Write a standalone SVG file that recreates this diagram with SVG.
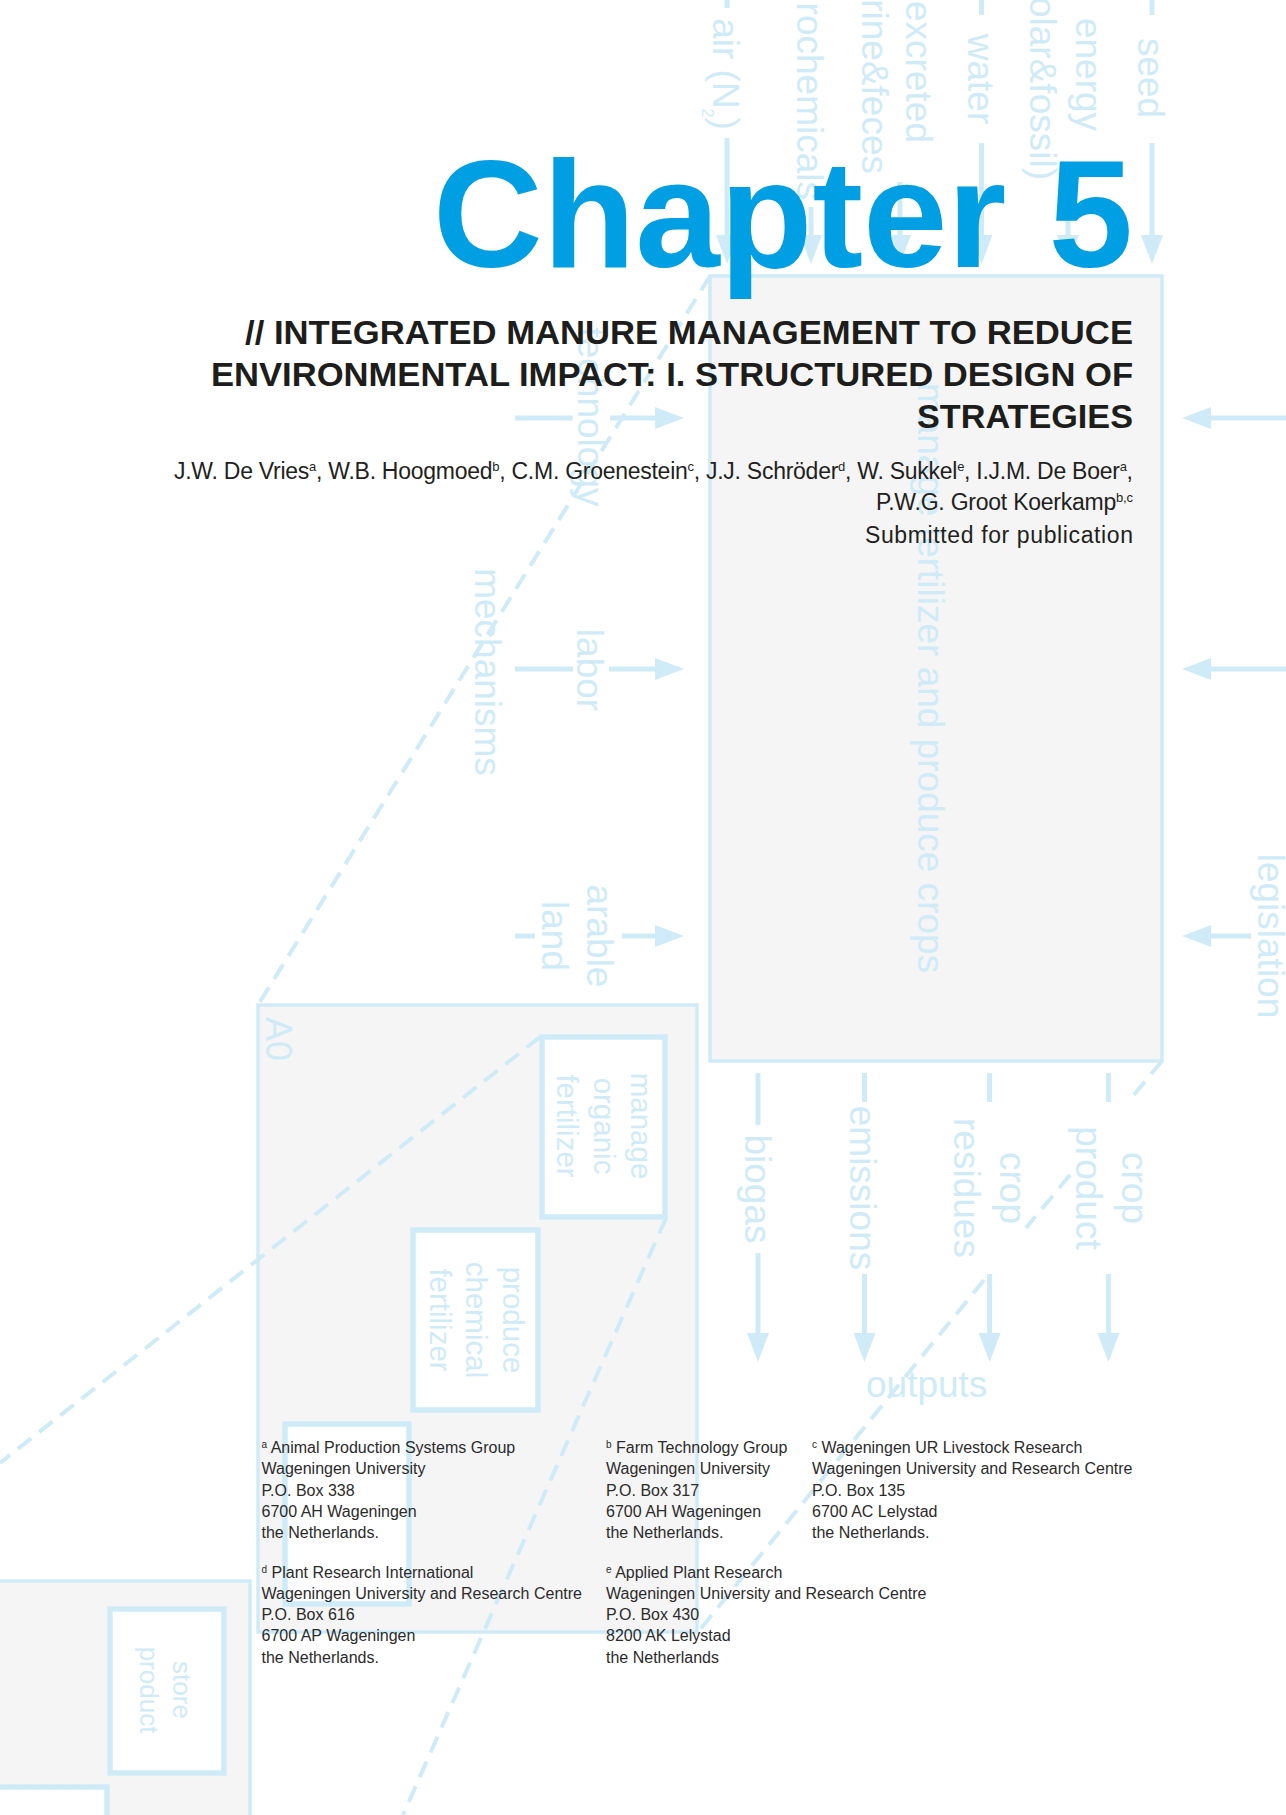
<svg xmlns="http://www.w3.org/2000/svg" width="1286" height="1815" viewBox="0 0 1286 1815">
<defs>
<style>
  .frame{fill:#f5f5f5;stroke:#cfebf8;stroke-width:3.5}
  .act{fill:#ffffff;stroke:#cfebf8;stroke-width:5.5}
  .flow{fill:none;stroke:#cfebf8;stroke-width:5}
  .zoomln{fill:none;stroke:#cfebf8;stroke-width:4;stroke-dasharray:17 10}
  .lbl{font-family:"Liberation Sans",Arial,sans-serif;font-size:37px;fill:#cfebf8}
  .lbl2{font-family:"Liberation Sans",Arial,sans-serif;font-size:29.5px;fill:#cfebf8}
  .lbl3{font-family:"Liberation Sans",Arial,sans-serif;font-size:26px;fill:#cfebf8}
  .mid{text-anchor:middle}
  .end{text-anchor:end}
  .chap{font-family:"Liberation Sans",Arial,sans-serif;font-weight:bold;font-size:152px;fill:#009fe3}
  .ttl{font-family:"Liberation Sans",Arial,sans-serif;font-weight:bold;font-size:33px;fill:#1d1d1b}
  .auth{font-family:"Liberation Sans",Arial,sans-serif;font-size:23px;fill:#231f20}
  .aff{font-family:"Liberation Sans",Arial,sans-serif;font-size:16px;fill:#2b2b2b}
  .sup{font-size:13px}
  .asup{font-size:10px}
</style>
<marker id="ah" markerUnits="userSpaceOnUse" markerWidth="29" markerHeight="22" refX="0" refY="11" orient="auto" viewBox="0 0 29 22">
  <path d="M0,0 L29,11 L0,22 z" fill="#cfebf8"/>
</marker>
</defs>

<rect width="1286" height="1815" fill="#ffffff"/>

<!-- level 2 frame (bottom-left) -->
<g id="frame-a2">
  <rect class="frame" x="-20" y="1581" width="270" height="300"/>
</g>
<g id="node-store-product">
  <rect class="act" x="110" y="1609" width="114" height="164"/>
  <text class="lbl3 mid" transform="translate(173,1690) rotate(90)">store</text>
  <text class="lbl3 mid" transform="translate(140,1690) rotate(90)">product</text>
</g>
<g id="node-a2-lower">
  <rect class="act" x="-20" y="1787" width="127" height="100"/>
</g>

<!-- A0 decomposition frame -->
<g id="frame-a0">
  <rect class="frame" x="258" y="1005" width="439" height="627"/>
  <text class="lbl" style="font-size:36px" transform="translate(266,1017) rotate(90)">A0</text>
</g>
<g id="node-manage-organic">
  <rect class="act" x="542" y="1037" width="123" height="180"/>
  <text class="lbl2 mid" transform="translate(631,1126) rotate(90)">manage</text>
  <text class="lbl2 mid" transform="translate(594,1126) rotate(90)">organic</text>
  <text class="lbl2 mid" transform="translate(557,1126) rotate(90)">fertilizer</text>
</g>
<g id="node-produce-chemical">
  <rect class="act" x="413" y="1230" width="125" height="180"/>
  <text class="lbl2 mid" transform="translate(503,1320) rotate(90)">produce</text>
  <text class="lbl2 mid" transform="translate(466,1320) rotate(90)">chemical</text>
  <text class="lbl2 mid" transform="translate(430,1320) rotate(90)">fertilizer</text>
</g>
<g id="node-a0-third">
  <rect class="act" x="285" y="1424" width="124" height="180"/>
</g>

<!-- context activity -->
<g id="node-a-0">
  <rect class="frame" x="710" y="276" width="452" height="785"/>
  <text class="lbl mid" transform="translate(918,678) rotate(90)">manage fertilizer and produce crops</text>
</g>

<!-- arrows -->
<g id="connectors">
  <!-- inputs -->
  <path class="flow" d="M727,0 V8"/>
  <path class="flow" d="M727,138 V235" marker-end="url(#ah)"/>
  <path class="flow" d="M811,207 V235" marker-end="url(#ah)"/>
  <path class="flow" d="M900,182 V235" marker-end="url(#ah)"/>
  <path class="flow" d="M981.5,0 V15"/>
  <path class="flow" d="M981.5,143 V235" marker-end="url(#ah)"/>
  <path class="flow" d="M1068,188 V235" marker-end="url(#ah)"/>
  <path class="flow" d="M1152,0 V15"/>
  <path class="flow" d="M1152,143 V235" marker-end="url(#ah)"/>
  <!-- mechanisms -->
  <path class="flow" d="M515,418 H572.7"/>
  <path class="flow" d="M610,418 H655" marker-end="url(#ah)"/>
  <path class="flow" d="M515,669 H573"/>
  <path class="flow" d="M609,669 H655" marker-end="url(#ah)"/>
  <path class="flow" d="M515,936 H535"/>
  <path class="flow" d="M622,936 H655" marker-end="url(#ah)"/>
  <!-- controls -->
  <path class="flow" d="M1290,418 H1211" marker-end="url(#ah)"/>
  <path class="flow" d="M1290,669 H1211" marker-end="url(#ah)"/>
  <path class="flow" d="M1251,936 H1211" marker-end="url(#ah)"/>
  <!-- outputs -->
  <path class="flow" d="M758,1073 V1125"/>
  <path class="flow" d="M758,1253 V1333" marker-end="url(#ah)"/>
  <path class="flow" d="M864.5,1073 V1102"/>
  <path class="flow" d="M864.5,1274 V1333" marker-end="url(#ah)"/>
  <path class="flow" d="M989.6,1073 V1102"/>
  <path class="flow" d="M989.6,1274 V1333" marker-end="url(#ah)"/>
  <path class="flow" d="M1108.4,1073 V1102"/>
  <path class="flow" d="M1108.4,1274 V1333" marker-end="url(#ah)"/>
  <!-- decomposition guides -->
  <path class="zoomln" d="M710,276 L258,1005"/>
  <path class="zoomln" d="M1162,1061 L1128,1102 M1070,1175 L1026,1228 M984,1280 L698,1632"/>
  <path class="zoomln" d="M540,1037 L0,1463"/>
  <path class="zoomln" d="M666,1218 L403,1815"/>
</g>

<!-- arrow labels -->
<g id="labels">
  <text class="lbl mid" transform="translate(713,74) rotate(90)">air (N<tspan style="font-size:16px" dy="11">2</tspan><tspan dy="-11">)</tspan></text>
  <text class="lbl end" transform="translate(797,200) rotate(90)">agrochemicals</text>
  <text class="lbl mid" transform="translate(906,72) rotate(90)">excreted</text>
  <text class="lbl end" transform="translate(862,174) rotate(90)">urine&amp;feces</text>
  <text class="lbl mid" transform="translate(968,79) rotate(90)">water</text>
  <text class="lbl mid" transform="translate(1076,74.5) rotate(90)">energy</text>
  <text class="lbl end" transform="translate(1030,180) rotate(90)">(solar&amp;fossil)</text>
  <text class="lbl mid" transform="translate(1138,78) rotate(90)">seed</text>

  <text class="lbl mid" transform="translate(578,417) rotate(90)">technology</text>
  <text class="lbl mid" transform="translate(577,670) rotate(90)">labor</text>
  <text class="lbl mid" transform="translate(587,936) rotate(90)">arable</text>
  <text class="lbl mid" transform="translate(542,936) rotate(90)">land</text>
  <text class="lbl mid" transform="translate(475,672) rotate(90)">mechanisms</text>

  <text class="lbl mid" transform="translate(1258,936) rotate(90)">legislation</text>

  <text class="lbl mid" transform="translate(745,1189) rotate(90)">biogas</text>
  <text class="lbl mid" transform="translate(850,1188) rotate(90)">emissions</text>
  <text class="lbl mid" transform="translate(1000,1188) rotate(90)">crop</text>
  <text class="lbl mid" transform="translate(954,1188) rotate(90)">residues</text>
  <text class="lbl mid" transform="translate(1122,1188) rotate(90)">crop</text>
  <text class="lbl mid" transform="translate(1076,1188) rotate(90)">product</text>
  <text class="lbl" x="866" y="1397">outputs</text>
</g>

<!-- chapter heading -->
<g id="heading">
  <text class="chap" x="433" y="267" textLength="700" lengthAdjust="spacing">Chapter 5</text>
  <text class="ttl" x="245" y="344" textLength="888" lengthAdjust="spacingAndGlyphs">// INTEGRATED MANURE MANAGEMENT TO REDUCE</text>
  <text class="ttl" x="211" y="386" textLength="922" lengthAdjust="spacingAndGlyphs">ENVIRONMENTAL IMPACT: I. STRUCTURED DESIGN OF</text>
  <text class="ttl" x="917" y="428" textLength="216" lengthAdjust="spacingAndGlyphs">STRATEGIES</text>
</g>

<g id="authors">
  <text class="auth" x="174" y="479" textLength="959" lengthAdjust="spacing">J.W. De Vries<tspan class="sup" dy="-8">a</tspan><tspan dy="8">, W.B. Hoogmoed</tspan><tspan class="sup" dy="-8">b</tspan><tspan dy="8">, C.M. Groenestein</tspan><tspan class="sup" dy="-8">c</tspan><tspan dy="8">, J.J. Schröder</tspan><tspan class="sup" dy="-8">d</tspan><tspan dy="8">, W. Sukkel</tspan><tspan class="sup" dy="-8">e</tspan><tspan dy="8">, I.J.M. De Boer</tspan><tspan class="sup" dy="-8">a</tspan><tspan dy="8">,</tspan></text>
  <text class="auth" x="876" y="510" textLength="257" lengthAdjust="spacing">P.W.G. Groot Koerkamp<tspan class="sup" dy="-8">b,c</tspan></text>
  <text class="auth" x="865" y="543" textLength="268" lengthAdjust="spacing">Submitted for publication</text>
</g>

<g id="affiliations">
  <text class="aff" x="261.5" y="1453"><tspan class="asup" dy="-5">a</tspan><tspan dy="5"> Animal Production Systems Group</tspan></text>
  <text class="aff" x="261.5" y="1474">Wageningen University</text>
  <text class="aff" x="261.5" y="1495.5">P.O. Box 338</text>
  <text class="aff" x="261.5" y="1516.5">6700 AH Wageningen</text>
  <text class="aff" x="261.5" y="1537.5">the Netherlands.</text>

  <text class="aff" x="606" y="1453"><tspan class="asup" dy="-5">b</tspan><tspan dy="5"> Farm Technology Group</tspan></text>
  <text class="aff" x="606" y="1474">Wageningen University</text>
  <text class="aff" x="606" y="1495.5">P.O. Box 317</text>
  <text class="aff" x="606" y="1516.5">6700 AH Wageningen</text>
  <text class="aff" x="606" y="1537.5">the Netherlands.</text>

  <text class="aff" x="812" y="1453"><tspan class="asup" dy="-5">c</tspan><tspan dy="5"> Wageningen UR Livestock Research</tspan></text>
  <text class="aff" x="812" y="1474">Wageningen University and Research Centre</text>
  <text class="aff" x="812" y="1495.5">P.O. Box 135</text>
  <text class="aff" x="812" y="1516.5">6700 AC Lelystad</text>
  <text class="aff" x="812" y="1537.5">the Netherlands.</text>

  <text class="aff" x="261.5" y="1578"><tspan class="asup" dy="-5">d</tspan><tspan dy="5"> Plant Research International</tspan></text>
  <text class="aff" x="261.5" y="1599">Wageningen University and Research Centre</text>
  <text class="aff" x="261.5" y="1620">P.O. Box 616</text>
  <text class="aff" x="261.5" y="1641">6700 AP Wageningen</text>
  <text class="aff" x="261.5" y="1662.5">the Netherlands.</text>

  <text class="aff" x="606" y="1578"><tspan class="asup" dy="-5">e</tspan><tspan dy="5"> Applied Plant Research</tspan></text>
  <text class="aff" x="606" y="1599">Wageningen University and Research Centre</text>
  <text class="aff" x="606" y="1620">P.O. Box 430</text>
  <text class="aff" x="606" y="1641">8200 AK Lelystad</text>
  <text class="aff" x="606" y="1662.5">the Netherlands</text>
</g>
</svg>
